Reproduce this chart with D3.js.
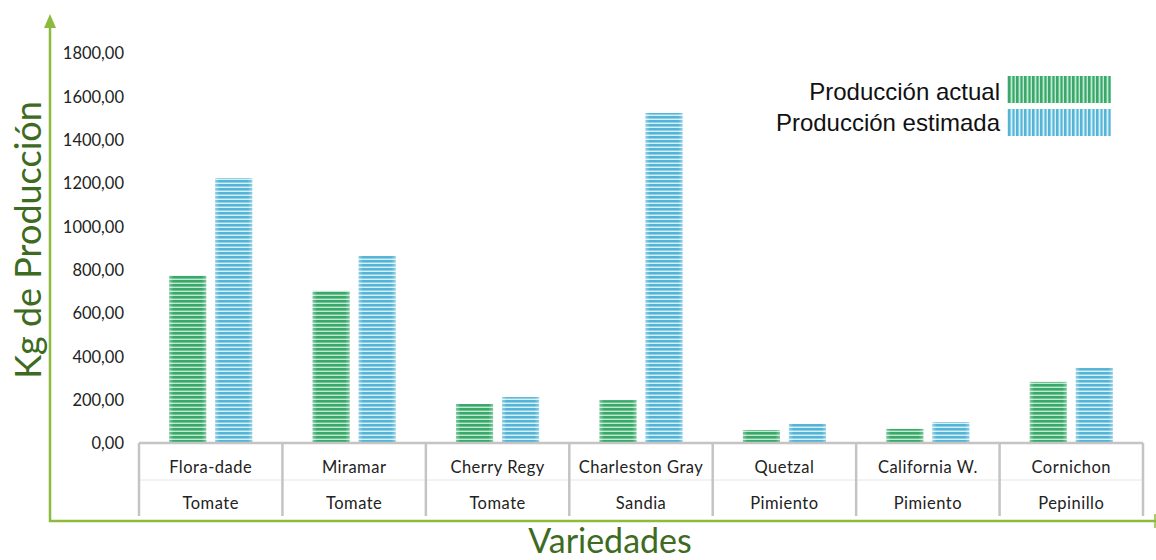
<!DOCTYPE html>
<html><head><meta charset="utf-8">
<script src="https://cdn.jsdelivr.net/npm/d3@7"></script>
<style>body{margin:0;background:#fff}svg{display:block}</style>
</head><body>
<svg id="c" width="1156" height="560"></svg>
<script>
const varieties = ["Flora-dade","Miramar","Cherry Regy","Charleston Gray","Quetzal","California W.","Cornichon"];
const crops = ["Tomate","Tomate","Tomate","Sandia","Pimiento","Pimiento","Pepinillo"];
const actual = [772, 702, 180, 198, 60, 65, 282];
const estimated = [1223, 863, 212, 1523, 88, 97, 346];
const seriesNames = ["Producción actual","Producción estimada"];
const yTicks = [0,200,400,600,800,1000,1200,1400,1600,1800];

const svg = d3.select("#c");
const defs = svg.append("defs");
function hPattern(id, dark, mid, light){
  const p = defs.append("pattern").attr("id",id).attr("patternUnits","userSpaceOnUse").attr("width",10).attr("height",8);
  p.append("rect").attr("width",10).attr("height",8).attr("fill",mid);
  p.append("rect").attr("y",0).attr("width",10).attr("height",2).attr("fill",dark);
  p.append("rect").attr("y",3).attr("width",10).attr("height",1).attr("fill",light);
  p.append("rect").attr("y",4).attr("width",10).attr("height",2).attr("fill",dark);
  p.append("rect").attr("y",7).attr("width",10).attr("height",1).attr("fill",light);
}
function vPattern(id, dark, mid, light){
  const p = defs.append("pattern").attr("id",id).attr("patternUnits","userSpaceOnUse").attr("width",8).attr("height",10);
  p.append("rect").attr("width",8).attr("height",10).attr("fill",mid);
  p.append("rect").attr("x",0).attr("width",2).attr("height",10).attr("fill",dark);
  p.append("rect").attr("x",3).attr("width",1).attr("height",10).attr("fill",light);
  p.append("rect").attr("x",5).attr("width",1).attr("height",10).attr("fill",dark);
  p.append("rect").attr("x",7).attr("width",1).attr("height",10).attr("fill",light);
}
hPattern("pg","#3aa86a","#6cc493","#c2e8d2");
hPattern("pb","#55b4d6","#8ccfe6","#d6f0f8");
vPattern("vg","#3aa86a","#6cc493","#c2e8d2");
vPattern("vb","#55b4d6","#8ccfe6","#d6f0f8");
const eg = defs.append("linearGradient").attr("id","edge").attr("x1","0").attr("x2","1");
eg.append("stop").attr("offset","0").attr("stop-color","#fff").attr("stop-opacity",0.35);
eg.append("stop").attr("offset","0.12").attr("stop-color","#fff").attr("stop-opacity",0);
eg.append("stop").attr("offset","0.88").attr("stop-color","#fff").attr("stop-opacity",0);
eg.append("stop").attr("offset","1").attr("stop-color","#fff").attr("stop-opacity",0.35);

const x0 = 139, x1 = 1143, yBase = 443, yTop = 53;
const x = d3.scaleBand().domain(varieties).range([x0,x1]).paddingInner(0).paddingOuter(0);
const xs = d3.scaleBand().domain([0,1]).range([0,x.bandwidth()]).paddingInner(0.1957).paddingOuter(0.6565);
const y = d3.scaleLinear().domain([0,1800]).range([yBase,yTop]);

const labFont = "Lato, 'Open Sans', sans-serif";
const fmt = v => v.toFixed(2).replace(".",",");
const yAxis = d3.axisLeft(y).tickValues(yTicks).tickFormat(fmt).tickSize(0).tickPadding(0);
const ya = svg.append("g").attr("transform","translate(124,0)").call(yAxis);
ya.select(".domain").remove();
ya.selectAll("text").attr("font-family",labFont).attr("font-size",16.5).attr("fill","#222").attr("dy","0.35em");

const pats = ["url(#pg)","url(#pb)"];
const data = [actual, estimated];
varieties.forEach((v,i)=>{
  [0,1].forEach(s=>{
    const bx = x(v)+xs(s), bw = xs.bandwidth(), by = y(data[s][i]), bh = yBase - by;
    svg.append("rect").attr("x",bx).attr("y",by).attr("width",bw).attr("height",bh).attr("fill",pats[s]);
    svg.append("rect").attr("x",bx).attr("y",by).attr("width",bw).attr("height",bh).attr("fill","url(#edge)");
  });
});

const grid = svg.append("g").attr("stroke","#c4c4c4").attr("fill","none");
grid.append("line").attr("x1",x0).attr("x2",x1).attr("y1",yBase).attr("y2",yBase).attr("stroke-width",2.5);
grid.append("line").attr("x1",x0).attr("x2",x1).attr("y1",480).attr("y2",480).attr("stroke","#e6e6e6").attr("stroke-width",1);
const bounds = varieties.map(v=>x(v)).concat([x1]);
bounds.forEach(b=>grid.append("line").attr("x1",b).attr("x2",b).attr("y1",yBase).attr("y2",516).attr("stroke-width",2.5));
varieties.forEach((v,i)=>{
  const cx = x(v)+x.bandwidth()/2;
  svg.append("text").attr("x",cx).attr("y",467).attr("dy","0.35em").attr("text-anchor","middle")
    .attr("font-family",labFont).attr("font-size",16.5).attr("letter-spacing",0.5).attr("fill","#222").text(v);
  svg.append("text").attr("x",cx).attr("y",503).attr("dy","0.35em").attr("text-anchor","middle")
    .attr("font-family",labFont).attr("font-size",16.5).attr("letter-spacing",0.5).attr("fill","#222").text(crops[i]);
});

const axc = "#8cbb3c";
svg.append("line").attr("x1",50).attr("x2",50).attr("y1",24).attr("y2",522).attr("stroke",axc).attr("stroke-width",2.5);
svg.append("path").attr("d","M50,14 L44,28 L56,28 Z").attr("fill",axc);
svg.append("line").attr("x1",49).attr("x2",1156).attr("y1",521).attr("y2",521).attr("stroke",axc).attr("stroke-width",2.5);
svg.append("line").attr("x1",1155).attr("x2",1155).attr("y1",514).attr("y2",528).attr("stroke",axc).attr("stroke-width",1.5);

const titleC = "#3d6b22";
svg.append("text").attr("transform","translate(41,240) rotate(-90)").attr("text-anchor","middle")
  .attr("font-family",labFont).attr("font-size",36).attr("fill",titleC).text("Kg de Producción");
svg.append("text").attr("x",610).attr("y",553).attr("text-anchor","middle")
  .attr("font-family",labFont).attr("font-size",34).attr("fill",titleC).text("Variedades");

const legY = [92, 122.5];
const vp = ["url(#vg)","url(#vb)"];
seriesNames.forEach((n,i)=>{
  svg.append("text").attr("x",1000).attr("y",legY[i]).attr("dy","0.35em").attr("text-anchor","end")
    .attr("font-family","'Liberation Sans', Arial, sans-serif").attr("font-size",24).attr("fill","#111").text(n);
  svg.append("rect").attr("x",1007).attr("y",[76,109][i]).attr("width",104).attr("height",27).attr("fill",vp[i]);
});
</script>
</body></html>
